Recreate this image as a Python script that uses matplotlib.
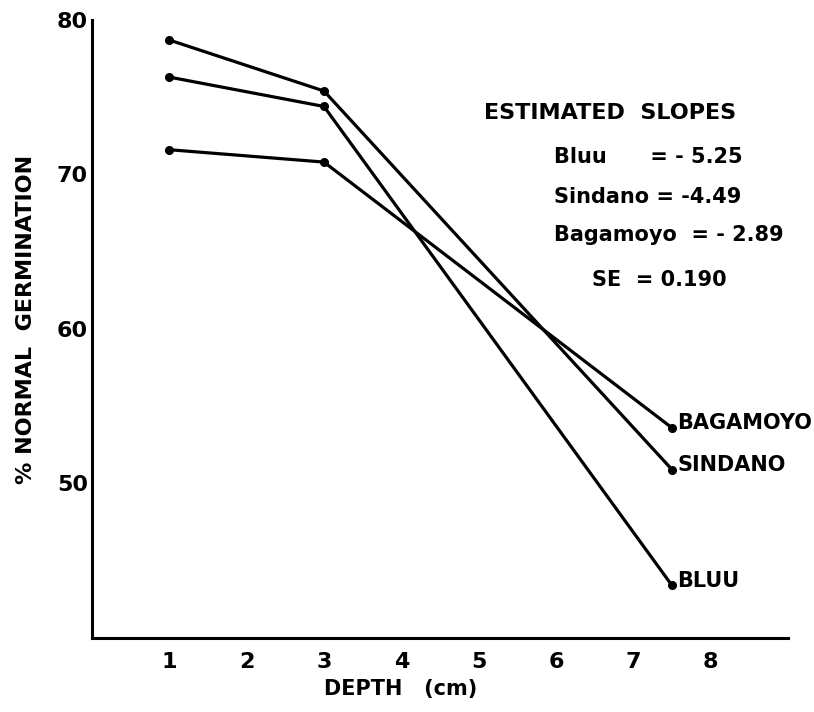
import matplotlib
matplotlib.use('Agg')
import matplotlib.pyplot as plt

plt.rcParams['font.family'] = ['DejaVu Sans']

# data
depth = [1, 3, 7.5]
sindano = [78.7, 75.4, 50.9]
bluu = [76.3, 74.4, 43.4]
bagamoyo = [71.6, 70.8, 53.6]
series = {'SINDANO': sindano, 'BLUU': bluu, 'BAGAMOYO': bagamoyo}

slope_lines = ['Bluu      = - 5.25', 'Sindano = -4.49', 'Bagamoyo  = - 2.89']
slope_y = [71.1, 68.55, 66.1]
se_text = 'SE  = 0.190'

fig = plt.figure(figsize=(8.14, 7.12), dpi=100)
ax = fig.add_axes([0.113, 0.104, 0.855, 0.868])

for name, vals in series.items():
    ax.plot(depth, vals, color='black', lw=2.3, marker='o', ms=5.5)
    ax.text(depth[-1] + 0.07, vals[-1] + 0.3, name, fontsize=15,
            fontweight='bold', ha='left', va='center')

ax.set_xlim(0, 9)
ax.set_ylim(40, 80)
ax.set_xticks(range(1, 9))
ax.set_yticks([50, 60, 70, 80])
ax.tick_params(length=0, labelsize=16, pad=10)
ax.tick_params(axis='y', pad=3)
for lab in ax.get_xticklabels() + ax.get_yticklabels():
    lab.set_fontweight('bold')

for s in ['top', 'right']:
    ax.spines[s].set_visible(False)
for s in ['left', 'bottom']:
    ax.spines[s].set_linewidth(2.2)

ax.set_xlabel('DEPTH   (cm)', fontsize=15, fontweight='bold')
ax.xaxis.set_label_coords(0.443, -0.066)
ax.set_ylabel('% NORMAL  GERMINATION', fontsize=16, fontweight='bold')
ax.yaxis.set_label_coords(-0.08, 0.516)

ax.text(6.70, 74.0, 'ESTIMATED  SLOPES', fontsize=16, fontweight='bold',
        ha='center', va='center')
for t, y in zip(slope_lines, slope_y):
    ax.text(5.97, y, t, fontsize=15, fontweight='bold', ha='left', va='center')
ax.text(6.47, 63.15, se_text, fontsize=15, fontweight='bold',
        ha='left', va='center')

fig.savefig('out.png', dpi=100)
